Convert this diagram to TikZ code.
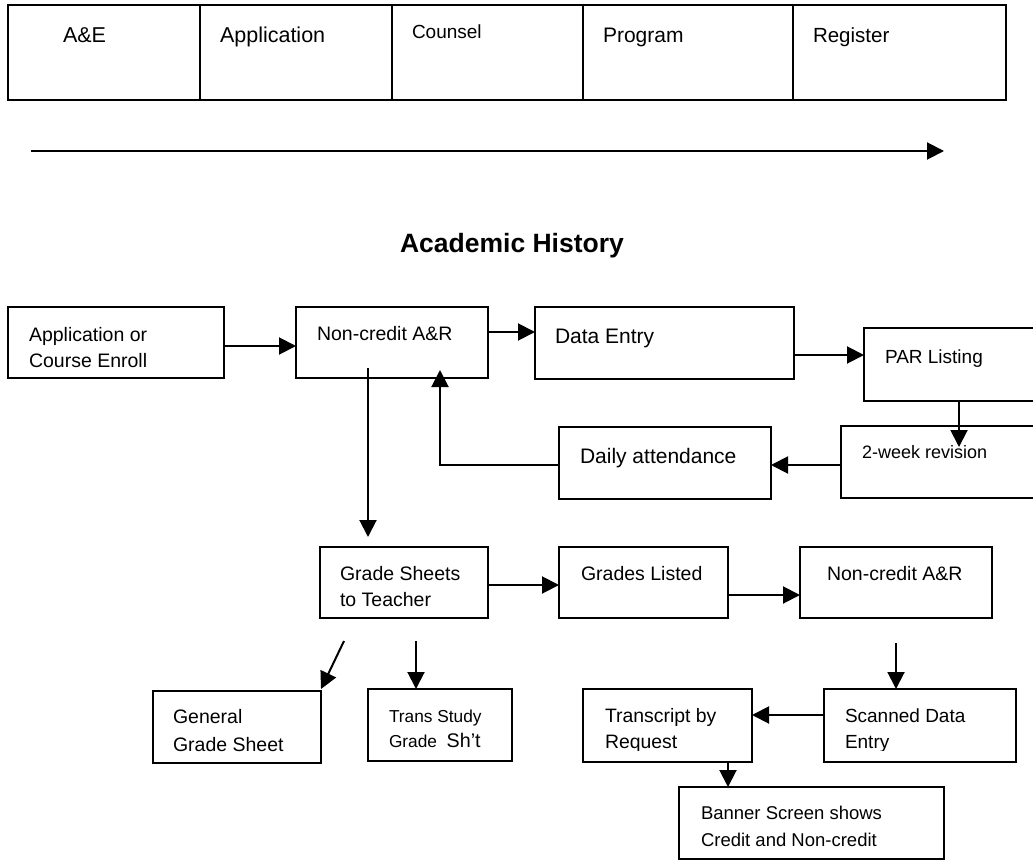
\documentclass[tikz,border=0pt]{standalone}
\usepackage{fontspec}
\setmainfont{Liberation Sans}
\usetikzlibrary{arrows.meta,calc}

% two left-aligned lines whose baseline is the first line's baseline
\newcommand{\twolines}[2]{\begin{tabular}[t]{@{}l@{}}#1\\#2\end{tabular}}

\begin{document}
\begin{tikzpicture}[x=1pt,y=-1pt,
  box/.style={draw, line width=2.4pt, inner sep=0pt, outer sep=0pt, anchor=north west},
  lbl/.style={anchor=base west, inner sep=0pt, outer sep=0pt},
  arr/.style={line width=2pt, -{Triangle[length=17pt,width=17pt]}},
]
\useasboundingbox (0,0) rectangle (1033,861);
\fill[white] (0,0) rectangle (1033,861);
\clip (0,0) rectangle (1033,861);

% ---- stage table ----
\node[box, minimum width=192, minimum height=95] (cellA) at (8,5) {};
\node[box, minimum width=192, minimum height=95] (cellB) at (200,5) {};
\node[box, minimum width=191, minimum height=95] (cellC) at (392,5) {};
\node[box, minimum width=210, minimum height=95] (cellD) at (583,5) {};
\node[box, minimum width=213, minimum height=95] (cellE) at (793,5) {};
\node[lbl, font=\fontsize{21.5}{26}\selectfont] (tA) at (63,43) {A\&E};
\node[lbl, font=\fontsize{21.5}{26}\selectfont] (tB) at (220,43) {Application};
\node[lbl, font=\fontsize{19}{24}\selectfont] (tC) at (412,39) {Counsel};
\node[lbl, font=\fontsize{21}{26}\selectfont] (tD) at (603,43) {Program};
\node[lbl, font=\fontsize{20.5}{26}\selectfont] (tE) at (813,43) {Register};

% ---- timeline arrow ----
\coordinate (flowstart) at (31,151);
\coordinate (flowend) at (944,151);
\draw[arr] (flowstart) -- (flowend);

% ---- heading ----
\node[anchor=base, inner sep=0pt, font=\fontsize{26.5}{30}\selectfont\bfseries] (heading) at (512,252) {Academic History};

% ---- flow boxes ----
\node[box, minimum width=216, minimum height=71] (app) at (8,307) {};
\node[box, minimum width=192, minimum height=71] (nc) at (296,307) {};
\node[box, minimum width=259, minimum height=72] (de) at (535,307) {};
\node[box, minimum width=181, minimum height=73] (par) at (864,328) {};
\node[box, minimum width=204, minimum height=72] (rev) at (841,426) {};
\node[box, minimum width=212, minimum height=72] (daily) at (559,427) {};
\node[box, minimum width=168, minimum height=71] (gs) at (320,547) {};
\node[box, minimum width=169, minimum height=71] (gl) at (559,547) {};
\node[box, minimum width=192, minimum height=71] (nc2) at (800,547) {};
\node[box, minimum width=192, minimum height=73] (scan) at (824,689) {};
\node[box, minimum width=169, minimum height=73] (trans) at (583,689) {};
\node[box, minimum width=265, minimum height=72] (banner) at (679,787) {};
\node[box, minimum width=168, minimum height=72] (general) at (153,691) {};
\node[box, minimum width=144, minimum height=72] (ts) at (368,689) {};

% ---- box texts ----
\begin{scope}[every node/.append style={font=\fontsize{19.5}{26.5}\selectfont}]
\node[lbl] (appT) at (29,341) {\twolines{Application or}{Course Enroll}};
\node[lbl] (ncT) at (317,340) {Non-credit A\&R};
\node[lbl, font=\fontsize{21}{26}\selectfont] (deT) at (555,343) {Data Entry};
\node[lbl, font=\fontsize{19}{26}\selectfont] (parT) at (885,363) {PAR Listing};
\node[lbl, font=\fontsize{18}{26}\selectfont] (revT) at (862,458) {2-week revision};
\node[lbl, font=\fontsize{21}{26}\selectfont] (dailyT) at (580,463) {Daily attendance};
\node[lbl] (gsT) at (340,580) {\twolines{Grade Sheets}{to Teacher}};
\node[lbl] (glT) at (581,580) {Grades Listed};
\node[lbl] (nc2T) at (827,580) {Non-credit A\&R};
\node[lbl, font=\fontsize{18.5}{27}\selectfont] (bannerT) at (701,819) {\twolines{Banner Screen shows}{Credit and Non-credit}};
\node[lbl, font=\fontsize{19.5}{28}\selectfont] (generalT) at (173,723) {\twolines{General}{Grade Sheet}};
\node[lbl, font=\fontsize{17.3}{25}\selectfont] (tsT) at (389,722) {\twolines{Trans Study}{Grade\ \ {\fontsize{19.7}{25}\selectfont Sh’t}}};
\begin{scope}
  % the lower line of these two boxes is cut off just under its baseline
  \clip (560,680) rectangle (1030,750.5);
  \node[lbl, font=\fontsize{19.4}{26}\selectfont] (transT) at (605,722) {\twolines{Transcript by}{Request}};
  \node[lbl, font=\fontsize{19}{26}\selectfont] (scanT) at (845,722) {\twolines{Scanned Data}{Entry}};
\end{scope}
\end{scope}

% ---- connectors ----
\draw[arr] ($(app.east)+(0,3.5)$) -- ($(nc.west)+(0,3.5)$);
\draw[arr] ($(nc.east)+(0,-10.5)$) -- ($(de.west)+(0,-11)$);
\draw[arr] ($(de.east)+(0,12)$) -- ($(par.west)+(0,-9.5)$);
\draw[arr] ($(par.south)+(4.5,0)$) -- ($(rev.north)+(16,21)$);
\draw[arr] ($(rev.west)+(0,3)$) -- ($(daily.east)+(0,2)$);
\draw[arr] ($(daily.west)+(0,2)$) -| ($(nc.south)+(48,-8)$);
\draw[arr] ($(nc.south)+(-24,-10)$) -- ($(gs.north)+(-36,-10)$);
\draw[arr] ($(gs.east)+(0,2.5)$) -- ($(gl.west)+(0,2.5)$);
\draw[arr] ($(gl.east)+(0,12.5)$) -- ($(nc2.west)+(0,12.5)$);
\draw[arr] ($(nc2.south)+(0,25)$) -- ($(scan.north)+(-24,0)$);
\draw[arr] ($(scan.west)+(0,-10.5)$) -- ($(trans.east)+(0,-10.5)$);
\draw[arr] ($(trans.south)+(60.5,0)$) -- ($(banner.north)+(-83.5,0)$);
\draw[arr] ($(gs.south)+(-60,23)$) -- ($(general.north east)+(0,-2)$);
\draw[arr] ($(gs.south)+(12,23)$) -- ($(ts.north)+(-24,0)$);
\end{tikzpicture}
\end{document}
